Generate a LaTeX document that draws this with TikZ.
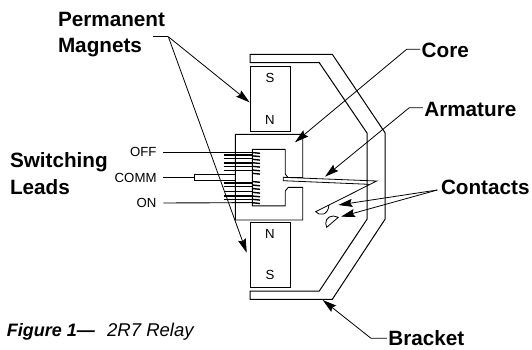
\documentclass[tikz,border=0pt]{standalone}
\usepackage{fontspec}
\setmainfont{Liberation Sans}
\usetikzlibrary{arrows.meta}
\tikzset{
  part/.style={draw, line width=0.9pt, line join=miter},
  leader/.style={draw, line width=0.8pt, -{Stealth[length=14pt,width=8pt,inset=2pt]}},
  partlabel/.style={inner sep=0pt, outer sep=1.5pt, anchor=base west, align=left, font=\fontsize{20.7}{26.3}\selectfont\bfseries},
  smalllabel/.style={inner sep=0pt, font=\fontsize{13.2}{15}\selectfont},
}
\begin{document}
\begin{tikzpicture}[x=1pt, y=-1pt]
  \useasboundingbox (0, 0) rectangle (532, 349);
  % labels
  \node (magnetslabel) [partlabel] at (56.5, 52.7) {Permanent\\Magnets};
  \node (leadslabel) [partlabel] at (8.5, 194) {Switching\\Leads};
  \node (corelabel) [partlabel] at (420.2, 57.3) {Core};
  \node (armaturelabel) [partlabel] at (422.8, 116) {Armature};
  \node (contactslabel) [partlabel] at (439.5, 194.3) {Contacts};
  \node (bracketlabel) [partlabel] at (386.8, 345) {Bracket};
  \node (offlabel) [smalllabel, anchor=east] at (156.7, 151.5) {OFF};
  \node (commlabel) [smalllabel, anchor=east] at (156.7, 177.5) {COMM};
  \node (onlabel) [smalllabel, anchor=east] at (156.7, 203) {ON};
  \node (caption) [inner sep=0pt, anchor=base west, font=\fontsize{18}{20}\selectfont\bfseries\itshape] at (6.7, 336.7) {Figure 1—};
  \node (model) [inner sep=0pt, anchor=base west, font=\fontsize{18.5}{20}\selectfont\itshape] at (107, 336.7) {2R7 Relay};
  % bracket
  \draw [part, line width=1pt] (250, 54.3) -- (332.3, 54.3) -- (385, 132.7) -- (385, 219.3) -- (332.3, 299.3) -- (250, 299.3)
    -- (250, 291) -- (319.3, 291) -- (367, 219.3) -- (367, 133) -- (319.3, 62.7) -- (250, 62.7) -- cycle;
  % magnets
  \node (topmagnet) [part, minimum width=40pt, minimum height=64.3pt, inner sep=0pt] at (270, 98.8) {};
  \node (bottommagnet) [part, minimum width=40pt, minimum height=64.6pt, inner sep=0pt] at (270, 255) {};
  \node (tops) [smalllabel] at (270, 78.3) {S};
  \node (topn) [smalllabel] at (270, 120) {N};
  \node (bottomn) [smalllabel] at (270, 233.5) {N};
  \node (bottoms) [smalllabel] at (270, 275) {S};
  % core
  \draw [part] (235.3, 134.3) -- (302.7, 134.3) -- (302.7, 177.5) -- (288, 177.5) -- (285.2, 174) -- (285.2, 149.3) -- (252.3, 149.3)
    -- (252.3, 205.8) -- (285.2, 205.8) -- (285.2, 191) -- (288.3, 187.3) -- (302.7, 187.3) -- (302.7, 220) -- (235.3, 220) -- cycle;
  % coil
  \foreach \y in {155, 158.5, 163, 166.5, 170.5, 183, 186.5, 191.5, 196, 199.5} {
    \draw [line width=1.4pt] (223.5, \y) -- (252.3, \y);
  }
  \foreach \y in {152.5, 155.8, 159.3, 162.7, 166.3, 170, 173.3, 181.5, 185, 188.5, 192.3, 196, 199.3, 202.7} {
    \draw [line width=1.4pt] (252.3, \y) -- (260, \y + 0.8);
  }
  % leads
  \coordinate (offend) at (252.3, 152);
  \coordinate (onend) at (252.3, 202.6);
  \coordinate (commpin) at (194, 177.7);
  \draw [part] (offlabel.east) ++(6.6, 0.5) -- (offend);
  \draw [part] (onlabel.east) ++(6.6, 0) -- (onend);
  \draw [part] (commlabel.east) ++(6.6, 0.2) -- (commpin);
  \draw [part] (236, 174.7) -- (194, 174.7) -- (194, 180.7) -- (236, 180.7);
  % armature and contacts
  \draw [part, line width=0.8pt] (368.7, 184.3) -- (283.3, 180.7) -- (283.3, 177.3) -- (376.7, 181) -- (315.7, 211.7)
    .. controls (319, 216) and (328, 216) .. (329, 205);
  \draw [part, line width=0.8pt] (326.7, 227.3) .. controls (324, 222) and (327, 216) .. (333.3, 216) -- (338.3, 217.3) -- cycle;
  % leaders
  \coordinate (magnetsfoot) at (153.3, 36.7);
  \coordinate (magnetselbow) at (168.3, 36.7);
  \coordinate (coreelbow) at (406.7, 49.3);
  \coordinate (armatureelbow) at (409.3, 107.7);
  \coordinate (contactsapex) at (437.3, 190);
  \coordinate (bracketelbow) at (371, 338.3);
  \draw [part, line width=0.8pt] (magnetsfoot) -- (magnetselbow);
  \draw [leader] (magnetselbow) -- (topmagnet.north west |- 0, 102.3);
  \draw [leader] (magnetselbow) -- (246.7, 252.7);
  \draw [leader] (corelabel.west |- coreelbow) -- (coreelbow) -- (295, 142.3);
  \draw [leader] (armaturelabel.west |- armatureelbow) -- (armatureelbow) -- (325, 176.7);
  \draw [leader] (contactsapex) -- (338.3, 205);
  \draw [leader] (contactsapex) -- (341, 216.7);
  \draw [leader] (bracketlabel.west |- bracketelbow) -- (bracketelbow) -- (322.7, 300);
\end{tikzpicture}
\end{document}
